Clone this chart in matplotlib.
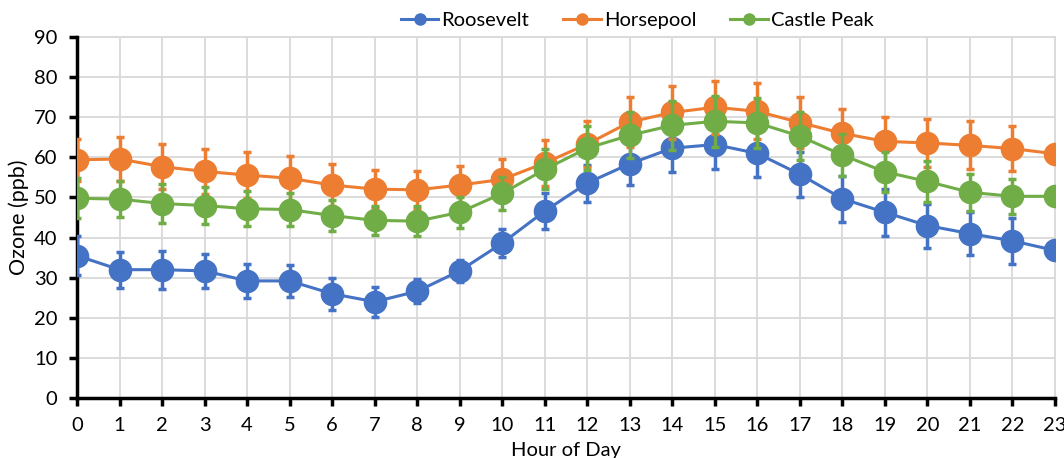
import numpy as np
import matplotlib
matplotlib.use("Agg")
import matplotlib.pyplot as plt

plt.rcParams['font.family'] = ['Lato', 'DejaVu Sans']

hours = list(range(24))

roosevelt = [35.5, 32.0, 32.0, 31.7, 29.2, 29.2, 26.0, 24.0, 26.6, 31.7, 38.6, 46.6,
             53.6, 58.4, 62.3, 63.2, 61.0, 55.8, 49.7, 46.3, 43.0, 41.0, 39.2, 36.8]
roosevelt_err = [4.8, 4.5, 4.7, 4.2, 4.2, 4.0, 4.0, 3.7, 3.0, 2.8, 3.5, 4.4,
                 4.6, 5.3, 5.9, 6.0, 6.0, 5.6, 5.7, 5.8, 5.5, 5.3, 5.7, 0.0]

horsepool = [59.4, 59.6, 57.7, 56.5, 55.6, 54.8, 53.1, 52.1, 51.9, 53.1, 54.5, 58.6,
             63.3, 68.8, 71.2, 72.5, 71.5, 68.7, 66.0, 64.0, 63.6, 63.0, 62.2, 60.9]
horsepool_err = [5.3, 5.6, 5.6, 5.7, 5.8, 5.6, 5.2, 4.8, 4.7, 4.8, 5.0, 5.7,
                 5.8, 6.3, 6.6, 6.6, 7.0, 6.4, 6.1, 6.0, 6.0, 6.0, 5.6, 0.0]

castle_peak = [49.8, 49.6, 48.5, 48.0, 47.2, 47.0, 45.5, 44.3, 44.1, 46.3, 51.0, 57.0,
               62.3, 65.5, 68.0, 69.0, 68.6, 65.3, 60.6, 56.4, 54.0, 51.3, 50.3, 50.3]
castle_peak_err = [5.0, 4.5, 4.8, 4.5, 4.3, 4.2, 3.8, 3.7, 3.7, 3.9, 4.2, 5.0,
                   5.5, 5.7, 6.1, 6.4, 6.2, 5.9, 5.2, 5.0, 5.0, 4.6, 4.3, 0.0]

series = [("Roosevelt", roosevelt, roosevelt_err, "#4472C4"),
          ("Horsepool", horsepool, horsepool_err, "#ED7D31"),
          ("Castle Peak", castle_peak, castle_peak_err, "#70AD47")]

fig = plt.figure(figsize=(10.64, 4.58), dpi=100)
ax = fig.add_axes([0.0724, 0.131, 0.919, 0.788])

for i, (name, vals, err, col) in enumerate(series):
    ax.errorbar(hours, vals, yerr=err, color=col, ecolor=col, elinewidth=2.5,
                capsize=3, capthick=2.5, lw=2.2, marker='o', markersize=16,
                label=name, zorder=3 + i)

ax.set_xlim(0, 23)
ax.set_ylim(0, 90)
ax.set_xticks(hours)
ax.set_yticks(np.arange(0, 91, 10))
ax.grid(True, color='#d9d9d9', lw=1.3, zorder=0)
ax.set_axisbelow(True)
for s in ['top', 'right']:
    ax.spines[s].set_visible(False)
for s in ['left', 'bottom']:
    ax.spines[s].set_linewidth(2.5)
    ax.spines[s].set_color('black')
ax.plot([0, 23], [90, 90], color='#d9d9d9', lw=1.3, zorder=0, clip_on=False)
ax.plot([23, 23], [0, 90], color='#d9d9d9', lw=1.3, zorder=0, clip_on=False)
ax.tick_params(axis='both', direction='out', length=6, width=2.5, labelsize=14.5, color='black')
ax.tick_params(axis='x', pad=8)
ax.tick_params(axis='y', pad=8)
ax.set_xlabel("Hour of Day", fontsize=14.5)
ax.xaxis.set_label_coords(0.5, -0.122)
ax.set_ylabel("Ozone (ppb)", fontsize=15.5, labelpad=4)

handles, labels = ax.get_legend_handles_labels()
handles = [h[0] for h in handles]
fig.legend(handles, labels, loc='center', bbox_to_anchor=(0.599, 0.955), ncol=3,
           frameon=False, fontsize=14.5, markerscale=0.5, handlelength=1.85,
           columnspacing=1.7, handletextpad=0.15)

fig.savefig("out.png", dpi=100)
